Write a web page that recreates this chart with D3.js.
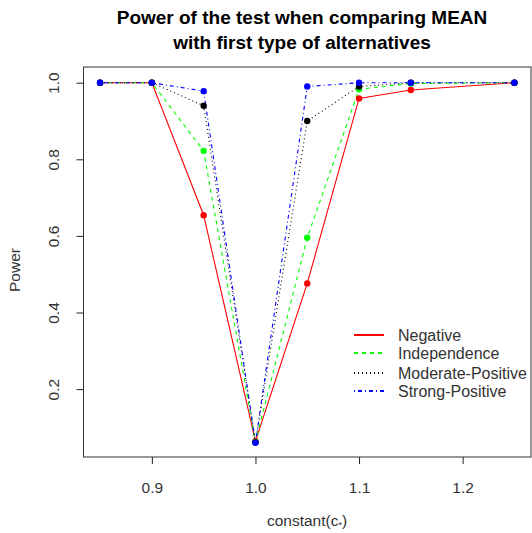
<!DOCTYPE html>
<html><head><meta charset="utf-8">
<script src="https://cdn.jsdelivr.net/npm/d3@7"></script>
<style>body{margin:0;background:#fff}svg{display:block}text{font-family:"Liberation Sans",Arial,sans-serif}</style>
</head><body>
<script>
const xValues = [0.85, 0.9, 0.95, 1.0, 1.05, 1.1, 1.15, 1.25];
const seriesNames = ["Negative", "Independence", "Moderate-Positive", "Strong-Positive"];
const negative = [1.0, 1.0, 0.654, 0.064, 0.476, 0.959, 0.981, 1.0];
const independence = [1.0, 1.0, 0.822, 0.062, 0.595, 0.983, 0.998, 1.0];
const moderatePositive = [1.0, 1.0, 0.940, 0.061, 0.900, 0.990, 1.0, 1.0];
const strongPositive = [1.0, 1.0, 0.978, 0.060, 0.990, 1.0, 1.0, 1.0];
const xTicks = [0.9, 1.0, 1.1, 1.2];
const yTicks = [0.2, 0.4, 0.6, 0.8, 1.0];

const colors = ["#ff0000", "#00ff00", "#000000", "#0000ff"];
const dashes = [null, "4,4", "1,3", "1,3,4,3"];
const allSeries = [negative, independence, moderatePositive, strongPositive];

const W = 532, H = 533;
const svg = d3.select("body").append("svg").attr("width", W).attr("height", H);

const x = d3.scaleLinear().domain([0.834, 1.266]).range([83.5, 531]);
const y = d3.scaleLinear().domain([0, 1]).range([465.7, 82.7]);
const plotTop = 67, plotBottom = 457;

// box
svg.append("rect").attr("x", 83.5).attr("y", plotTop).attr("width", 531 - 83.5).attr("height", plotBottom - plotTop)
  .attr("fill", "none").attr("stroke", "#333").attr("stroke-width", 1);

// x axis
const xa = svg.append("g").attr("transform", `translate(0,${plotBottom})`)
  .call(d3.axisBottom(x).tickValues(xTicks).tickFormat(d3.format(".1f")).tickSize(7).tickPadding(18));
xa.select(".domain").remove();
xa.selectAll("line").attr("stroke", "#222");
xa.selectAll("text").attr("font-size", 15.5).attr("fill", "#333").style("font-family", '"Liberation Sans",Arial,sans-serif');

// y axis
const ya = svg.append("g").attr("transform", `translate(83.5,0)`)
  .call(d3.axisLeft(y).tickValues(yTicks).tickFormat(d3.format(".1f")).tickSize(7).tickPadding(0));
ya.select(".domain").remove();
ya.selectAll("line").attr("stroke", "#222");
ya.selectAll("text").attr("font-size", 15.5).attr("fill", "#333")
  .style("font-family", '"Liberation Sans",Arial,sans-serif')
  .attr("text-anchor", "middle").attr("x", null)
  .attr("transform", "translate(-30,0) rotate(-90)").attr("dy", "0.35em");

// lines and points
const lineGen = d3.line().x((d, i) => x(xValues[i])).y(d => y(d));
allSeries.forEach((s, k) => {
  svg.append("path").datum(s).attr("d", lineGen).attr("fill", "none")
    .attr("stroke", colors[k]).attr("stroke-width", 1.1)
    .attr("stroke-dasharray", dashes[k]);
});
allSeries.forEach((s, k) => {
  svg.append("g").selectAll("circle").data(s).join("circle")
    .attr("cx", (d, i) => x(xValues[i])).attr("cy", d => y(d)).attr("r", 3.2)
    .attr("fill", colors[k]);
});

// title
svg.append("text").attr("x", 302).attr("y", 24).attr("text-anchor", "middle")
  .attr("font-size", 19).attr("font-weight", "bold").text("Power of the test when comparing MEAN");
svg.append("text").attr("x", 302).attr("y", 49).attr("text-anchor", "middle")
  .attr("font-size", 19).attr("font-weight", "bold").text("with first type of alternatives");

// axis labels
const xl = svg.append("text").attr("x", 307).attr("y", 526).attr("text-anchor", "middle")
  .attr("font-size", 15.5).attr("fill", "#333");
xl.append("tspan").text("constant(c");
xl.append("tspan").attr("font-size", 9).attr("dy", 2).text("*");
xl.append("tspan").attr("dy", -2).text(")");

svg.append("text").attr("transform", "translate(20,270) rotate(-90)").attr("text-anchor", "middle")
  .attr("font-size", 15.5).attr("fill", "#333").text("Power");

// legend
const legY = [335, 353, 373, 391];
seriesNames.forEach((n, k) => {
  svg.append("path").attr("d", `M354,${legY[k]}H384`)
    .attr("fill", "none").attr("shape-rendering", "crispEdges")
    .attr("stroke", colors[k]).attr("stroke-width", 2).attr("stroke-dasharray", dashes[k]);
  svg.append("text").attr("x", 398).attr("y", legY[k]).attr("dy", "0.35em")
    .attr("font-size", 16).attr("fill", "#333").text(n);
});
</script>
</body></html>
